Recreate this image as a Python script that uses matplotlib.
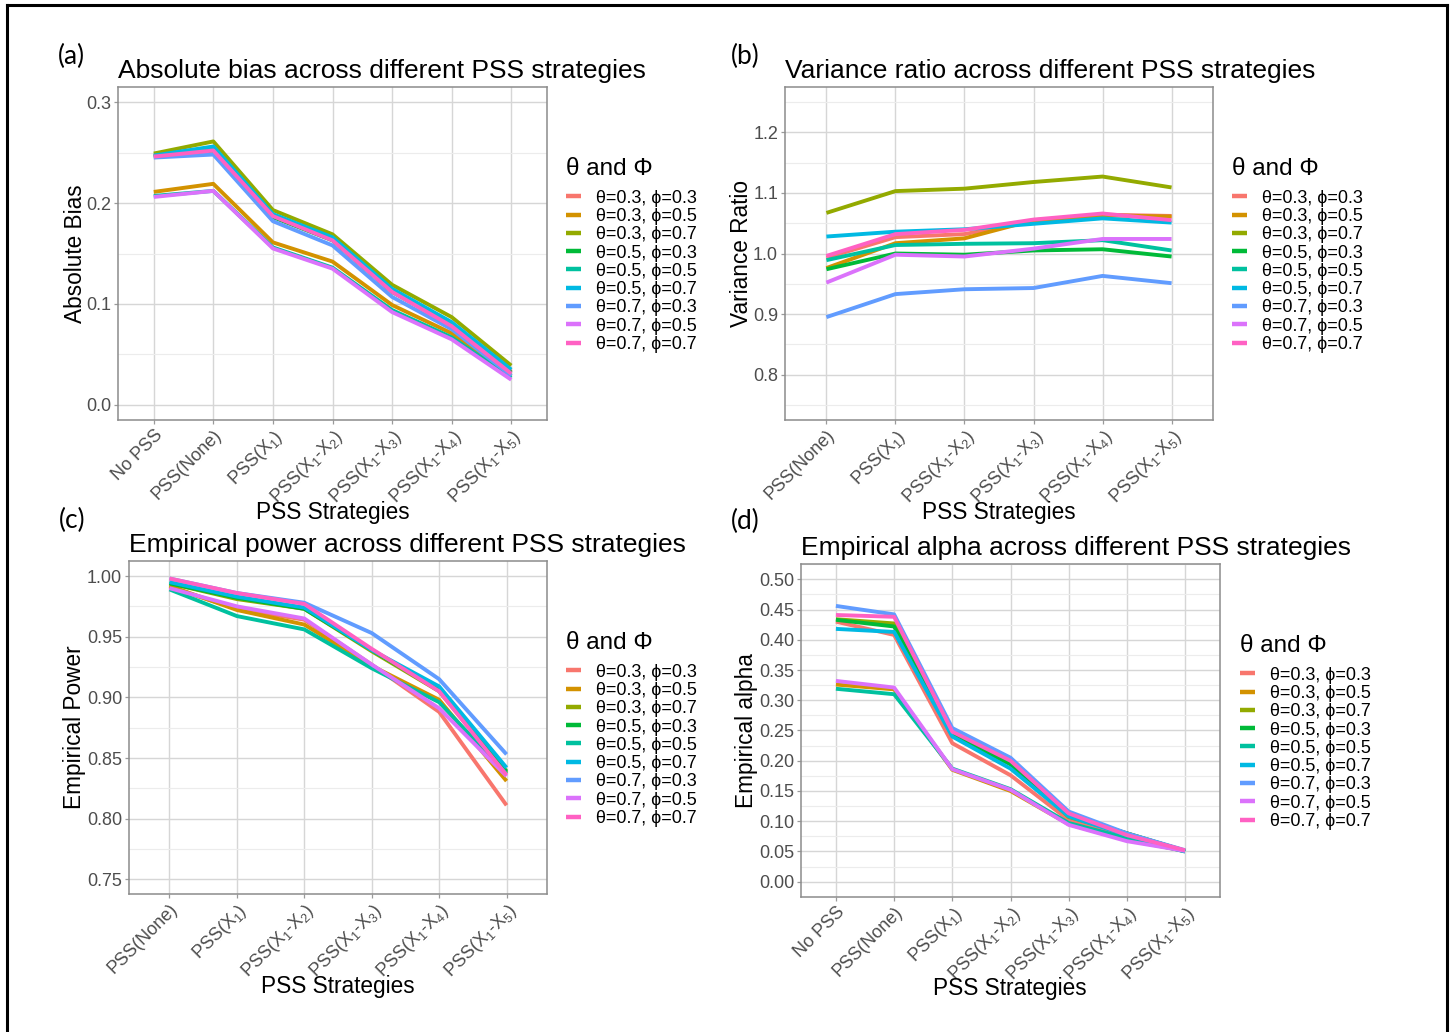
"""Four-panel PSS strategy comparison (bias, variance ratio, power, alpha)."""

import matplotlib
matplotlib.use("Agg")
import matplotlib.pyplot as plt
from matplotlib.lines import Line2D
from matplotlib.ticker import MultipleLocator

plt.rcParams["font.family"] = ["Liberation Sans", "DejaVu Sans"]
plt.rcParams["mathtext.fontset"] = "custom"
plt.rcParams["mathtext.rm"] = "Liberation Sans"
plt.rcParams["mathtext.default"] = "regular"

W, H = 1453, 1032

GROUPS = ["θ=0.3, ϕ=0.3", "θ=0.3, ϕ=0.5", "θ=0.3, ϕ=0.7",
          "θ=0.5, ϕ=0.3", "θ=0.5, ϕ=0.5", "θ=0.5, ϕ=0.7",
          "θ=0.7, ϕ=0.3", "θ=0.7, ϕ=0.5", "θ=0.7, ϕ=0.7"]
COLORS = ["#F8766D", "#D39200", "#93AA00", "#00BA38", "#00C19F",
          "#00B9E3", "#619CFF", "#DB72FB", "#FF61C3"]

STRATS_ALL = ["No PSS", "PSS(None)", "PSS(X$_1$)", "PSS(X$_1$-X$_2$)",
              "PSS(X$_1$-X$_3$)", "PSS(X$_1$-X$_4$)", "PSS(X$_1$-X$_5$)"]
STRATS_PSS = STRATS_ALL[1:]

# (a) absolute bias, one row per theta/phi group
bias = [
    [0.247, 0.254, 0.187, 0.164, 0.113, 0.080, 0.033],
    [0.211, 0.219, 0.161, 0.142, 0.099, 0.071, 0.029],
    [0.249, 0.261, 0.193, 0.169, 0.119, 0.087, 0.039],
    [0.246, 0.252, 0.186, 0.163, 0.112, 0.079, 0.032],
    [0.207, 0.212, 0.156, 0.136, 0.094, 0.067, 0.027],
    [0.247, 0.256, 0.189, 0.166, 0.115, 0.082, 0.035],
    [0.245, 0.248, 0.182, 0.158, 0.107, 0.075, 0.029],
    [0.206, 0.212, 0.155, 0.135, 0.092, 0.065, 0.025],
    [0.246, 0.252, 0.187, 0.163, 0.112, 0.078, 0.031],
]

# (b) variance ratio
var_ratio = [
    [0.993, 1.027, 1.032, 1.053, 1.064, 1.062],
    [0.976, 1.017, 1.025, 1.055, 1.063, 1.061],
    [1.067, 1.103, 1.107, 1.118, 1.127, 1.109],
    [0.974, 1.000, 0.998, 1.005, 1.007, 0.995],
    [0.989, 1.014, 1.016, 1.017, 1.022, 1.005],
    [1.028, 1.036, 1.040, 1.049, 1.058, 1.051],
    [0.895, 0.933, 0.941, 0.943, 0.963, 0.951],
    [0.952, 0.998, 0.995, 1.008, 1.024, 1.024],
    [0.996, 1.032, 1.039, 1.056, 1.066, 1.055],
]

# (c) empirical power
power = [
    [0.991, 0.973, 0.964, 0.927, 0.888, 0.811],
    [0.992, 0.972, 0.960, 0.926, 0.898, 0.831],
    [0.994, 0.981, 0.973, 0.938, 0.905, 0.838],
    [0.994, 0.982, 0.973, 0.939, 0.906, 0.839],
    [0.989, 0.967, 0.956, 0.924, 0.896, 0.837],
    [0.995, 0.983, 0.974, 0.939, 0.909, 0.842],
    [0.998, 0.986, 0.978, 0.953, 0.915, 0.853],
    [0.990, 0.975, 0.965, 0.927, 0.891, 0.835],
    [0.998, 0.986, 0.977, 0.940, 0.905, 0.836],
]

# (d) empirical alpha
alpha = [
    [0.430, 0.408, 0.229, 0.176, 0.102, 0.074, 0.050],
    [0.326, 0.318, 0.185, 0.150, 0.095, 0.069, 0.051],
    [0.434, 0.427, 0.245, 0.196, 0.107, 0.080, 0.051],
    [0.433, 0.422, 0.243, 0.194, 0.110, 0.080, 0.051],
    [0.319, 0.310, 0.187, 0.153, 0.097, 0.072, 0.050],
    [0.418, 0.413, 0.240, 0.187, 0.108, 0.077, 0.050],
    [0.456, 0.442, 0.254, 0.205, 0.116, 0.080, 0.052],
    [0.332, 0.321, 0.186, 0.152, 0.094, 0.067, 0.051],
    [0.441, 0.438, 0.248, 0.200, 0.113, 0.077, 0.052],
]


def fig_box(l, t, r, b):
    return [l / W, 1 - b / H, (r - l) / W, (b - t) / H]


def fx(x):
    return x / W


def fy(y):
    return 1 - y / H


fig = plt.figure(figsize=(W / 100, H / 100), dpi=100)

# outer frame of the composite
for xs, ys in [((7, 7), (5, H + 5)), ((7, 1447), (5, 5)), ((1447, 1447), (5, H + 5))]:
    fig.add_artist(Line2D([fx(v) for v in xs], [fy(v) for v in ys], color="black", lw=2.2))

panels = [
    dict(box=(118, 87, 547, 420), data=bias, cats=STRATS_ALL, ylim=(-0.0149, 0.3149),
         major=0.1, minor=0.05, fmt="{:.1f}", ylabel="Absolute Bias", ylab_x=75,
         title="Absolute bias across different PSS strategies", title_y=78,
         letter="(a)", letter_xy=(71, 56), xlab_xy=(333, 512), legend_xy=(566, 158)),
    dict(box=(785, 87, 1213, 420), data=var_ratio, cats=STRATS_PSS, ylim=(0.7252, 1.2748),
         major=0.1, minor=0.05, fmt="{:.1f}", ylabel="Variance Ratio", ylab_x=741,
         title="Variance ratio across different PSS strategies", title_y=78,
         letter="(b)", letter_xy=(745, 56), xlab_xy=(999, 512), legend_xy=(1232, 158)),
    dict(box=(129, 561, 547, 894), data=power, cats=STRATS_PSS, ylim=(0.7379, 1.0124),
         major=0.05, minor=0.025, fmt="{:.2f}", ylabel="Empirical Power", ylab_x=75,
         title="Empirical power across different PSS strategies", title_y=552,
         letter="(c)", letter_xy=(72, 520), xlab_xy=(338, 986), legend_xy=(566, 632)),
    dict(box=(801, 564, 1220, 897), data=alpha, cats=STRATS_ALL, ylim=(-0.0253, 0.5253),
         major=0.05, minor=0.025, fmt="{:.2f}", ylabel="Empirical alpha", ylab_x=747,
         title="Empirical alpha across different PSS strategies", title_y=555,
         letter="(d)", letter_xy=(745, 521), xlab_xy=(1010, 988), legend_xy=(1240, 635)),
]

for p in panels:
    ax = fig.add_axes(fig_box(*p["box"]))
    x = list(range(len(p["cats"])))
    for name, color, vals in zip(GROUPS, COLORS, p["data"]):
        ax.plot(x, vals, color=color, lw=2.8, label=name, solid_capstyle="butt", zorder=3)
    ax.set_xlim(-0.6, len(x) - 0.4)
    ax.set_ylim(*p["ylim"])
    ax.set_xticks(x)
    ax.set_xticklabels(p["cats"], rotation=45, ha="right", va="top", rotation_mode="anchor")
    ax.yaxis.set_major_locator(MultipleLocator(p["major"]))
    ax.yaxis.set_minor_locator(MultipleLocator(p["minor"]))
    ax.set_yticklabels([p["fmt"].format(t) for t in ax.get_yticks()])
    ax.set_ylim(*p["ylim"])
    ax.grid(True, which="major", color="#d6d6d6", lw=1.0, zorder=0)
    ax.grid(True, which="minor", axis="y", color="#ececec", lw=0.8, zorder=0)
    ax.set_axisbelow(True)
    ax.tick_params(which="major", length=3, width=0.9, color="#9a9a9a",
                   labelsize=13, labelcolor="#4d4d4d", pad=2)
    ax.tick_params(which="minor", length=0)
    for s in ax.spines.values():
        s.set_color("#8c8c8c")
        s.set_linewidth(1.1)

    l, t, r, b = p["box"]
    fig.text(fx(l), fy(p["title_y"]), p["title"], fontsize=19, va="baseline", ha="left")
    fig.text(fx(p["ylab_x"]), fy((t + b) / 2), p["ylabel"], fontsize=16.3,
             rotation=90, ha="center", va="center")
    fig.text(fx(p["xlab_xy"][0]), fy(p["xlab_xy"][1]), "PSS Strategies", fontsize=16.3,
             ha="center", va="center")
    fig.text(fx(p["letter_xy"][0]), fy(p["letter_xy"][1]), p["letter"], fontsize=19,
             ha="center", va="center", family=["Lato", "DejaVu Sans"])

    leg = ax.legend(loc="upper left", bbox_to_anchor=(fx(p["legend_xy"][0]), fy(p["legend_xy"][1])),
                    bbox_transform=fig.transFigure, frameon=False, title="θ and Φ",
                    fontsize=13, title_fontsize=17.5, handlelength=0.85, handletextpad=0.8,
                    labelspacing=0.07, borderpad=0, borderaxespad=0, alignment="left")
    leg._legend_box.sep = 7
    for line in leg.get_lines():
        line.set_linewidth(3.2)

fig.savefig("out.png", dpi=100)
